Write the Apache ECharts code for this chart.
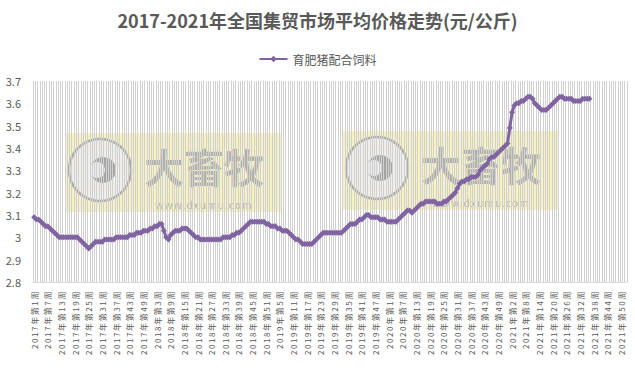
<!DOCTYPE html>
<html>
<head>
<meta charset="utf-8">
<script src="https://cdn.jsdelivr.net/npm/echarts@6/dist/echarts.min.js"></script>
<style>html,body{margin:0;padding:0;background:#fff}#c{width:635px;height:375px}</style>
</head>
<body>
<div id="c"></div>
<script>
// ---- data ----
const years = [2017, 2018, 2019, 2020, 2021];
const weeksPerYear = [52, 52, 52, 53, 52];
const seriesName = '育肥猪配合饲料';
const yTicks = [2.8, 2.9, 3, 3.1, 3.2, 3.3, 3.4, 3.5, 3.6, 3.7];
const v2017 = [3.09,3.08,3.08,3.07,3.06,3.05,3.05,3.04,3.03,3.02,3.01,3.0,3.0,3.0,3.0,3.0,3.0,3.0,3.0,3.0,
  2.99,2.98,2.97,2.96,2.95,2.96,2.97,2.98,2.98,2.98,2.98,2.99,2.99,2.99,2.99,2.99,3.0,3.0,3.0,3.0,
  3.0,3.0,3.01,3.01,3.01,3.02,3.02,3.02,3.03,3.03,3.03,3.04];
const v2018 = [3.04,3.05,3.05,3.06,3.06,3.03,3.0,2.99,3.01,3.02,3.03,3.03,3.03,3.04,3.04,3.04,3.03,3.02,3.01,3.0,
  3.0,2.99,2.99,2.99,2.99,2.99,2.99,2.99,2.99,2.99,2.99,3.0,3.0,3.0,3.0,3.01,3.01,3.02,3.02,3.03,
  3.04,3.05,3.06,3.07,3.07,3.07,3.07,3.07,3.07,3.07,3.06,3.06];
const v2019 = [3.05,3.05,3.05,3.04,3.04,3.03,3.03,3.03,3.02,3.01,3.0,2.99,2.99,2.98,2.97,2.97,2.97,2.97,2.97,2.98,
  2.99,3.0,3.01,3.02,3.02,3.02,3.02,3.02,3.02,3.02,3.02,3.02,3.03,3.04,3.05,3.06,3.06,3.06,3.07,3.08,
  3.08,3.09,3.1,3.1,3.09,3.09,3.09,3.09,3.08,3.08,3.08,3.07];
const v2020 = [3.07,3.07,3.07,3.07,3.08,3.09,3.1,3.11,3.12,3.12,3.11,3.12,3.13,3.14,3.15,3.15,3.16,3.16,3.16,3.16,
  3.16,3.15,3.15,3.15,3.16,3.16,3.17,3.18,3.19,3.2,3.22,3.24,3.25,3.25,3.26,3.26,3.27,3.27,3.27,3.28,
  3.3,3.31,3.32,3.33,3.35,3.36,3.36,3.37,3.38,3.39,3.4,3.41,3.42];
const v2021 = [3.49,3.56,3.59,3.6,3.6,3.61,3.61,3.62,3.63,3.63,3.62,3.6,3.59,3.58,3.57,3.57,3.57,3.58,3.59,3.6,
  3.61,3.62,3.63,3.63,3.62,3.62,3.62,3.62,3.61,3.61,3.61,3.61,3.62,3.62,3.62,3.62];

// ---- build ----
const categories = [];
years.forEach((y, k) => { for (let w = 1; w <= weeksPerYear[k]; w++) categories.push(y + '年第' + w + '周'); });
const allVals = [v2017, v2018, v2019, v2020, v2021];
const values = [];
allVals.forEach((arr, k) => { for (let w = 0; w < weeksPerYear[k]; w++) values.push(w < arr.length ? arr[w] : null); });

const FONT = '"Noto Sans CJK SC", "Noto Sans", sans-serif';
function watermark(x, y) {
  return {
    type: 'group', left: x, top: y, z: 100, silent: true,
    children: [
      { type: 'rect', shape: { x: 0, y: 0, width: 216, height: 79 }, style: { fill: 'rgba(242,234,160,0.62)' } },
      { type: 'circle', shape: { cx: 34, cy: 37, r: 31 }, style: { fill: 'rgba(238,238,238,0.9)', stroke: 'rgba(160,160,160,0.85)', lineWidth: 2.5 } },
      { type: 'circle', shape: { cx: 37, cy: 37, r: 13 }, style: { fill: 'rgba(150,150,150,0.85)' } },
      { type: 'circle', shape: { cx: 31, cy: 37, r: 8 }, style: { fill: 'rgba(238,238,238,0.95)' } },
      { type: 'text', style: { x: 138, y: 33, text: '大畜牧', font: 'bold 40px ' + FONT, fill: 'rgba(160,160,160,0.8)', textAlign: 'center', textVerticalAlign: 'middle' } },
      { type: 'text', style: { x: 138, y: 71, text: 'www.dxumu.com', font: '10px ' + FONT, fill: 'rgba(160,160,160,0.85)', textAlign: 'center', textVerticalAlign: 'middle' } }
    ]
  };
}

const chart = echarts.init(document.getElementById('c'), null, { renderer: 'svg' });
function spaceLabels() {
  document.querySelectorAll('#c svg text').forEach(t => {
    if (/年第/.test(t.textContent)) t.setAttribute('letter-spacing', '1.6');
    if (t.textContent === 'www.dxumu.com') t.setAttribute('letter-spacing', '1.2');
  });
}
chart.on('finished', spaceLabels);
chart.setOption({
  animation: false,
  backgroundColor: '#fff',
  title: {
    text: '2017-2021年全国集贸市场平均价格走势(元/公斤)',
    left: 'center', top: 6,
    textStyle: { fontFamily: FONT, fontWeight: 'bold', fontSize: 18, color: '#595959' }
  },
  legend: {
    top: 48, left: 'center',
    itemWidth: 28, itemHeight: 8,
    textStyle: { fontFamily: FONT, fontSize: 12, color: '#595959' },
    data: [seriesName]
  },
  grid: { left: 33, right: 8, top: 81, bottom: 93, containLabel: false },
  xAxis: {
    type: 'category',
    data: categories,
    boundaryGap: true,
    axisLine: { lineStyle: { color: '#d9d9d9' } },
    axisTick: { show: false },
    axisLabel: { interval: 5, rotate: 90, fontSize: 8, color: '#595959', fontFamily: FONT, margin: 8 },
    splitLine: { show: true, interval: 0, lineStyle: { color: '#d0d0d0', width: 1 } }
  },
  yAxis: {
    type: 'value',
    min: 2.8, max: 3.7, interval: 0.1,
    axisLine: { show: false },
    axisTick: { show: false },
    splitLine: { show: false },
    axisLabel: { fontSize: 11, color: '#595959', fontFamily: FONT, margin: 12,
      formatter: v => { const r = Math.round(v * 10) / 10; return yTicks.includes(r) ? String(r) : ''; } }
  },
  series: [{
    name: seriesName,
    type: 'line',
    data: values,
    symbol: 'diamond',
    symbolSize: 6,
    showAllSymbol: true,
    connectNulls: false,
    itemStyle: { color: '#8064A2' },
    lineStyle: { color: '#8064A2', width: 3 }
  }],
  graphic: [watermark(66, 133), watermark(343, 131)]
});
spaceLabels();
</script>
</body>
</html>
